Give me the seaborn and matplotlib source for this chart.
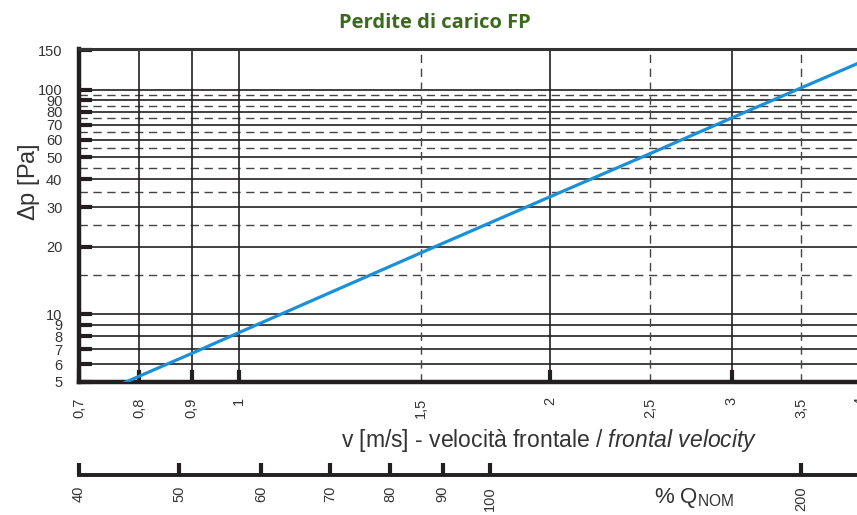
import numpy as np
import pandas as pd
import seaborn as sns
import matplotlib.pyplot as plt
from matplotlib.ticker import FixedLocator, FixedFormatter, NullLocator

# data
velocity = [0.77, 0.8, 0.9, 1.0, 1.5, 2.0, 2.5, 3.0, 3.5, 4.0]
pressure_drop = [4.9, 5.3, 6.7, 8.3, 18.8, 33.4, 52.0, 75.0, 102.0, 133.0]

x_ticks = [0.7, 0.8, 0.9, 1, 1.5, 2, 2.5, 3, 3.5, 4]
x_labels = ['0,7', '0,8', '0,9', '1', '1,5', '2', '2,5', '3', '3,5', '4']
x_solid = [0.8, 0.9, 1, 2, 3]
x_dashed = [1.5, 2.5, 3.5]

y_ticks = [5, 6, 7, 8, 9, 10, 20, 30, 40, 50, 60, 70, 80, 90, 100, 150]
y_solid = [6, 7, 8, 9, 10, 20, 30, 40, 50, 60, 70, 80, 90, 100]
y_dashed = [15, 25, 35, 45, 55, 65, 75, 85, 95]

q_ticks = [40, 50, 60, 70, 80, 90, 100, 200]
v_at_q100 = 1.75  # velocity at 100 % nominal flow

sns.set_style('white')
plt.rcParams['font.family'] = ['Liberation Sans', 'DejaVu Sans']
plt.rcParams['mathtext.fontset'] = 'custom'
plt.rcParams['mathtext.rm'] = 'Liberation Sans'
plt.rcParams['mathtext.it'] = 'Liberation Sans:italic'

df = pd.DataFrame({'v': velocity, 'dp': pressure_drop})

fig = plt.figure(figsize=(8.57, 5.15), dpi=100)
ax_w = 0.9125
ax = fig.add_axes([0.0922, 0.2583, ax_w, 0.6466])

dark = '#231f20'
for y in y_solid:
    ax.axhline(y, color=dark, lw=1.2, zorder=1)
for y in y_dashed:
    ax.axhline(y, color='#444444', lw=1.0, ls=(0, (6, 4)), zorder=1)
for x in x_solid:
    ax.axvline(x, color=dark, lw=1.2, zorder=1)
for x in x_dashed:
    ax.axvline(x, color='#444444', lw=1.0, ls=(0, (6, 4)), zorder=1)

sns.lineplot(data=df, x='v', y='dp', ax=ax, color='#1a90d9', lw=2.3, zorder=3)

ax.set_xscale('log')
ax.set_yscale('log')
ax.set_xlim(0.7, 4.0)
ax.set_ylim(5, 152)

ax.xaxis.set_major_locator(FixedLocator(x_ticks))
ax.xaxis.set_major_formatter(FixedFormatter(x_labels))
ax.xaxis.set_minor_locator(NullLocator())
ax.yaxis.set_major_locator(FixedLocator(y_ticks))
ax.yaxis.set_major_formatter(FixedFormatter([str(t) for t in y_ticks]))
ax.yaxis.set_minor_locator(NullLocator())

ax.tick_params(axis='y', direction='in', length=9, width=3, color=dark,
               labelsize=10.5, labelcolor='#333333', pad=12, left=True)
ax.tick_params(axis='x', direction='in', length=9, width=3, color=dark,
               labelsize=10.5, labelcolor='#333333', pad=11, bottom=True,
               labelrotation=90)
# thick tick marks only at the solid vertical lines
for tick, val in zip(ax.xaxis.get_major_ticks(), x_ticks):
    if val in x_dashed:
        tick.tick1line.set_visible(False)
for lbl in ax.get_xticklabels():
    lbl.set_va('top')

for side in ['left', 'bottom']:
    ax.spines[side].set_linewidth(3.2)
    ax.spines[side].set_color(dark)
ax.spines['top'].set_linewidth(2.2)
ax.spines['top'].set_color('#333333')
ax.spines['right'].set_visible(False)

ax.set_xlabel('')
ax.set_ylabel(r'$\Delta$p [Pa]', fontsize=17, color='#333333')
ax.yaxis.set_label_coords(-0.047, 0.6)

fig.text(0.641, 0.145, r'v [m/s] - velocità frontale / $\mathit{frontal\ velocity}$',
         ha='center', va='center', fontsize=16.5, color='#333333')

fig.text(0.507, 0.955, 'Perdite di carico FP', ha='center', va='center',
         fontsize=14.5, fontweight='bold', color='#3b6a1e', family=['Open Sans', 'DejaVu Sans'])

# secondary scale: % of nominal flow
qax = fig.add_axes([0.0922, 0.0777, ax_w, 0.0001])
qax.set_xscale('log')
qax.set_xlim(0.7 / v_at_q100 * 100, 4.0 / v_at_q100 * 100)
qax.xaxis.set_major_locator(FixedLocator(q_ticks))
qax.xaxis.set_major_formatter(FixedFormatter([str(t) for t in q_ticks]))
qax.xaxis.set_minor_locator(NullLocator())
qax.set_yticks([])
for side in ['left', 'right', 'top']:
    qax.spines[side].set_visible(False)
qax.spines['bottom'].set_linewidth(2.8)
qax.spines['bottom'].set_color(dark)
qax.tick_params(axis='x', direction='in', length=9, width=3, color=dark, bottom=True,
                labelsize=10.5, labelcolor='#333333', pad=8, labelrotation=90)
for lbl in qax.get_xticklabels():
    lbl.set_va('top')
qax.patch.set_visible(False)

fig.text(0.81, 0.033, r'% Q$_{\mathrm{NOM}}$', ha='center', va='center',
         fontsize=16, color='#333333')

fig.savefig('out.png', dpi=100)
